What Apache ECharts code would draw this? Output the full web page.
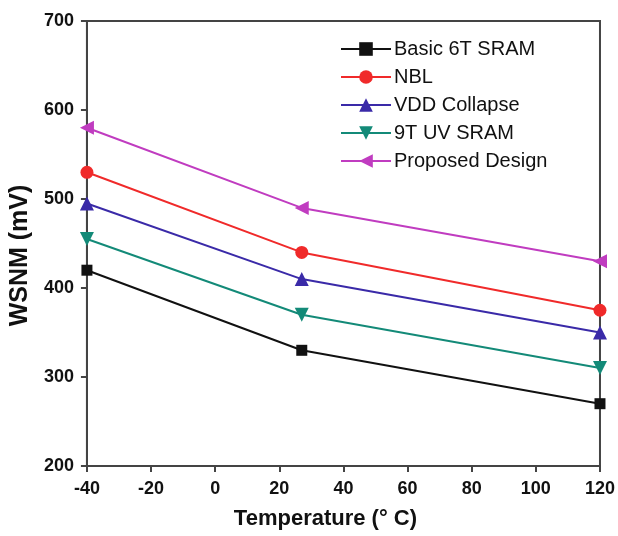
<!DOCTYPE html>
<html><head><meta charset="utf-8">
<script src="https://cdn.jsdelivr.net/npm/echarts@6/dist/echarts.min.js"></script>
<style>html,body{margin:0;padding:0;background:#fff}#c{width:618px;height:536px}</style>
</head><body><div id="c"></div>
<script>
const temps = [-40, 27, 120];
const basic6T = [420, 330, 270];
const nbl = [530, 440, 375];
const vddCollapse = [495, 410, 350];
const uv9T = [455, 370, 310];
const proposed = [580, 490, 430];
const seriesNames = ['Basic 6T SRAM', 'NBL', 'VDD Collapse', '9T UV SRAM', 'Proposed Design'];
const colors = ['#111111', '#f02a2a', '#3a2aa8', '#138a78', '#c03cc0'];
const symbols = ['rect', 'circle', 'triangle', 'path://M0,0 L10,0 L5,9 Z', 'path://M9,0 L9,10 L0,5 Z'];
const symbolSizes = [11, 13, 14, 14, 14];
const allData = [basic6T, nbl, vddCollapse, uv9T, proposed];

const chart = echarts.init(document.getElementById('c'));
const font = 'Liberation Sans, Arial, sans-serif';
chart.setOption({
  animation: false,
  backgroundColor: '#fff',
  grid: {left: 86, top: 21, right: 18, bottom: 70, show: true, borderColor: '#444', borderWidth: 2},
  legend: {
    left: 335, top: 34, orient: 'vertical', itemWidth: 50, itemHeight: 17, itemGap: 8,
    textStyle: {fontFamily: font, fontSize: 20, color: '#111', padding: [0, 0, 0, -2]},
    data: seriesNames
  },
  xAxis: {
    type: 'value', min: -40, max: 120, interval: 20,
    name: 'Temperature (° C)', nameLocation: 'middle', nameGap: 42,
    nameTextStyle: {fontFamily: font, fontSize: 22, fontWeight: 'bold', color: '#111', padding: [0, 36, 0, 0]},
    axisLine: {onZero: false, lineStyle: {color: '#444', width: 2}},
    axisTick: {inside: false, length: 6, lineStyle: {color: '#444', width: 2}},
    axisLabel: {fontFamily: font, fontSize: 18, fontWeight: 'bold', color: '#111', margin: 14},
    splitLine: {show: false}
  },
  yAxis: {
    type: 'value', min: 200, max: 700, interval: 100,
    name: 'WSNM (mV)', nameLocation: 'middle', nameGap: 51, nameRotate: 90,
    nameTextStyle: {fontFamily: font, fontSize: 25, fontWeight: 'bold', color: '#111', padding: [0, 24, 0, 0]},
    axisLine: {onZero: false, lineStyle: {color: '#444', width: 2}},
    axisTick: {inside: false, length: 6, lineStyle: {color: '#444', width: 2}},
    axisLabel: {fontFamily: font, fontSize: 18, fontWeight: 'bold', color: '#111', margin: 13},
    splitLine: {show: false}
  },
  series: seriesNames.map((n, i) => ({
    name: n, type: 'line', clip: true,
    data: temps.map((t, j) => [t, allData[i][j]]),
    symbol: symbols[i], symbolSize: symbolSizes[i], showAllSymbol: true,
    lineStyle: {color: colors[i], width: 2},
    itemStyle: {color: colors[i]},
    z: 5 - i
  }))
});
</script></body></html>
